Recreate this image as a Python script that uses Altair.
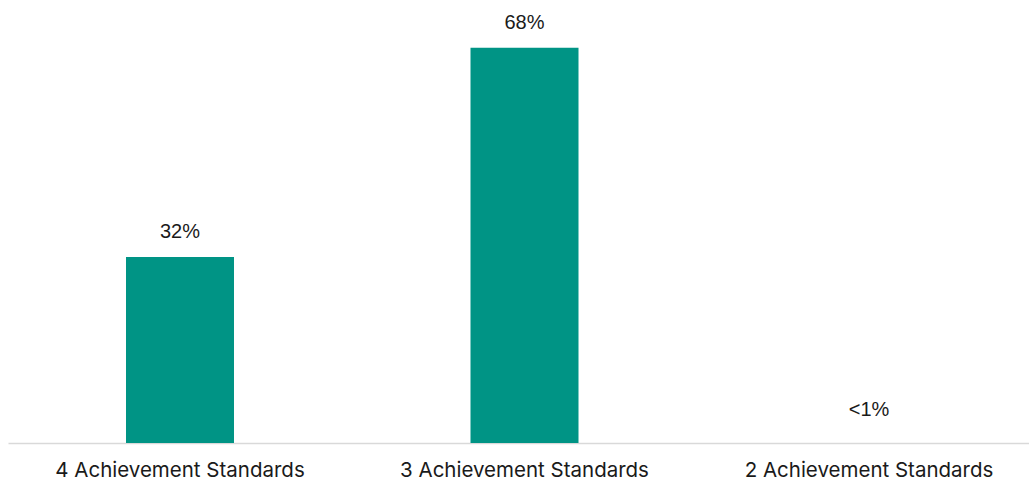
import altair as alt
import pandas as pd

categories = ["4 Achievement Standards", "3 Achievement Standards", "2 Achievement Standards"]
values = [0.32, 0.68, 0.0]
labels = ["32%", "68%", "<1%"]

df = pd.DataFrame({"cat": categories, "val": values, "lab": labels})

SHIFT = 6
x = alt.X("cat:N", sort=categories, title=None,
          scale=alt.Scale(paddingInner=0.6865, paddingOuter=0.3251),
          axis=alt.Axis(labelAngle=0, labelFont="Inter", labelFontSize=20.5, labelColor="#1a1a1a",
                        labelPadding=17, labelLimit=0, labelOffset=SHIFT, ticks=False,
                        domainColor="#d9d9d9", domainWidth=1.5, grid=False))
y = alt.Y("val:Q", scale=alt.Scale(domain=[0, 0.75]), axis=None)

bars = alt.Chart(df).mark_bar(color="#009485", xOffset=SHIFT).encode(x=x, y=y)
text_big = alt.Chart(df).transform_filter("datum.val > 0").mark_text(
    font="Liberation Sans", fontSize=20, color="#1a1a1a", dy=-25, dx=SHIFT).encode(
    x=alt.X("cat:N", sort=categories), y=y, text="lab:N")
text_small = alt.Chart(df).transform_filter("datum.val <= 0").mark_text(
    font="Liberation Sans", fontSize=20, color="#1a1a1a", dy=-33, dx=SHIFT).encode(
    x=alt.X("cat:N", sort=categories), y=y, text="lab:N")

chart = (bars + text_big + text_small).properties(
    width=1021, height=436,
    padding={"left": 8, "right": 0, "top": 7, "bottom": 0},
).configure_view(stroke=None)

chart.save("out.html", embed_options={"renderer": "svg", "actions": False})
